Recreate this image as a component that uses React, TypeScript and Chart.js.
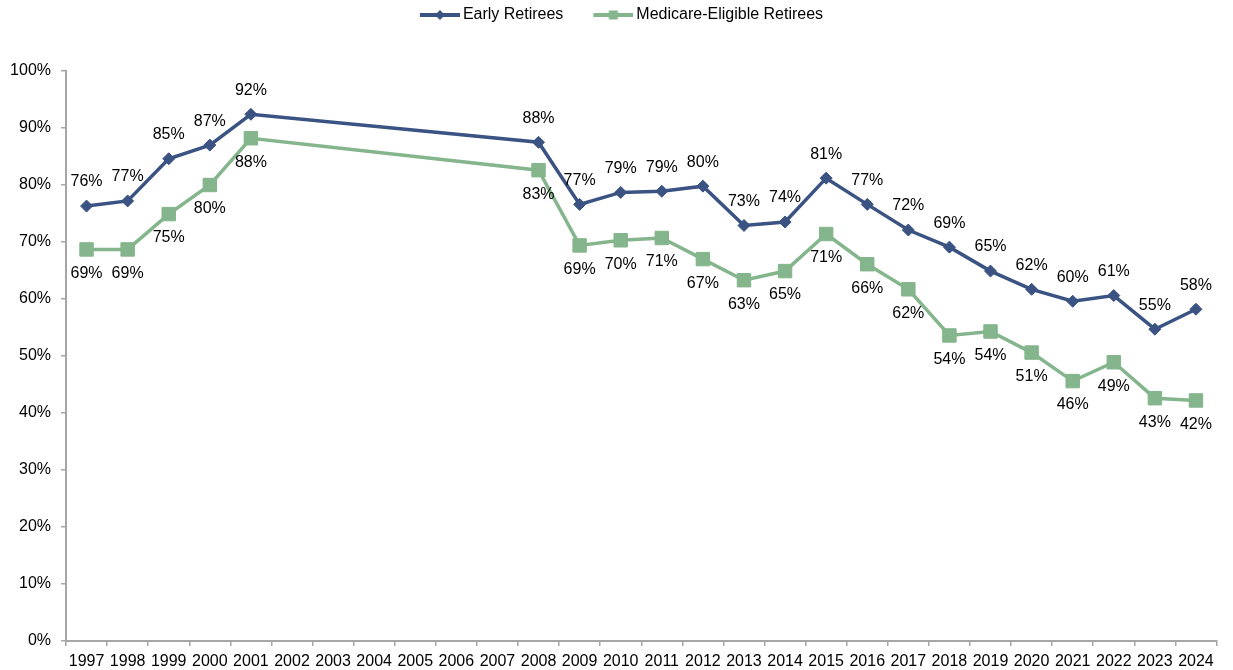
import React, { useEffect, useRef } from 'react';
import { Chart, registerables } from 'chart.js';

Chart.register(...registerables);

// ---- Data ----
const years = [
  '1997', '1998', '1999', '2000', '2001', '2002', '2003', '2004', '2005', '2006',
  '2007', '2008', '2009', '2010', '2011', '2012', '2013', '2014', '2015', '2016',
  '2017', '2018', '2019', '2020', '2021', '2022', '2023', '2024',
];

const earlyRetirees: (number | null)[] = [
  76.3, 77.2, 84.6, 87.0, 92.4, null, null, null, null, null,
  null, 87.5, 76.6, 78.7, 78.9, 79.8, 72.9, 73.5, 81.2, 76.6,
  72.1, 69.1, 64.9, 61.7, 59.6, 60.6, 54.7, 58.2,
];

const medicareEligible: (number | null)[] = [
  68.7, 68.7, 74.9, 80.0, 88.2, null, null, null, null, null,
  null, 82.6, 69.4, 70.3, 70.7, 67.0, 63.3, 64.9, 71.4, 66.1,
  61.7, 53.6, 54.3, 50.6, 45.6, 48.9, 42.6, 42.2,
];

const seriesNames = ['Early Retirees', 'Medicare-Eligible Retirees'];
const seriesColors = ['#3A5382', '#84B58C'];
const labelOffsets = [-24, 24];

const yMin = 0;
const yMax = 100;
const yStep = 10;

const FONT = "'Liberation Sans', Arial, sans-serif";

function makeLegendImage(color: string, kind: 'diamond' | 'square') {
  const c = document.createElement('canvas');
  c.width = 70;
  c.height = 16;
  const g = c.getContext('2d')!;
  g.strokeStyle = color;
  g.lineWidth = 4;
  g.beginPath();
  g.moveTo(30, 8);
  g.lineTo(70, 8);
  g.stroke();
  g.fillStyle = color;
  if (kind === 'diamond') {
    g.beginPath();
    g.moveTo(45, 8);
    g.lineTo(50, 3);
    g.lineTo(55, 8);
    g.lineTo(50, 13);
    g.closePath();
    g.fill();
  } else {
    g.fillRect(45.5, 3.5, 9, 9);
  }
  return c;
}

const pointLabelPlugin = {
  id: 'pointLabels',
  afterDatasetsDraw(chart: any) {
    const ctx = chart.ctx;
    ctx.save();
    ctx.font = `16px ${FONT}`;
    ctx.fillStyle = '#000';
    ctx.textAlign = 'center';
    ctx.textBaseline = 'middle';
    chart.data.datasets.forEach((ds: any, i: number) => {
      const meta = chart.getDatasetMeta(i);
      meta.data.forEach((el: any, j: number) => {
        const v = ds.data[j];
        if (v == null) return;
        ctx.fillText(Math.round(v) + '%', el.x, el.y + labelOffsets[i]);
      });
    });
    ctx.restore();
  },
};

export default function App() {
  const canvasRef = useRef<HTMLCanvasElement | null>(null);

  useEffect(() => {
    if (!canvasRef.current) return;
    Chart.defaults.font.family = FONT;
    Chart.defaults.font.size = 16;
    Chart.defaults.color = '#000';

    const legendImages = [
      makeLegendImage(seriesColors[0], 'diamond'),
      makeLegendImage(seriesColors[1], 'square'),
    ];

    const axisColor = '#A6A6A6';

    const chart = new Chart(canvasRef.current, {
      type: 'line',
      data: {
        labels: years,
        datasets: [
          {
            label: seriesNames[0],
            data: earlyRetirees,
            borderColor: seriesColors[0],
            backgroundColor: seriesColors[0],
            borderWidth: 3.5,
            pointStyle: 'rectRot',
            pointRadius: 6,
            pointBorderWidth: 1,
            pointBackgroundColor: seriesColors[0],
            pointBorderColor: seriesColors[0],
            tension: 0,
            spanGaps: true,
            xAxisID: 'x',
            yAxisID: 'y',
          },
          {
            label: seriesNames[1],
            data: medicareEligible,
            borderColor: seriesColors[1],
            backgroundColor: seriesColors[1],
            borderWidth: 3.5,
            pointStyle: 'rect',
            pointRadius: 9.5,
            pointBorderWidth: 1,
            pointBackgroundColor: seriesColors[1],
            pointBorderColor: seriesColors[1],
            tension: 0,
            spanGaps: true,
            xAxisID: 'x',
            yAxisID: 'y',
          },
        ],
      },
      options: {
        responsive: true,
        maintainAspectRatio: false,
        animation: false,
        layout: { padding: { left: 0, right: 3, top: 0, bottom: 0 } },
        plugins: {
          tooltip: { enabled: false },
          legend: {
            display: true,
            position: 'top',
            labels: {
              usePointStyle: true,
              pointStyleWidth: 60,
              padding: 5,
              color: '#000',
              font: { size: 16, family: FONT },
              generateLabels: (ch: any) =>
                ch.data.datasets.map((ds: any, i: number) => ({
                  text: ds.label,
                  pointStyle: legendImages[i],
                  fillStyle: seriesColors[i],
                  strokeStyle: seriesColors[i],
                  lineWidth: 0,
                  hidden: false,
                  datasetIndex: i,
                  fontColor: '#000',
                })),
            },
          },
        },
        scales: {
          x: {
            type: 'category',
            position: 'bottom',
            offset: true,
            grid: {
              offset: true,
              drawOnChartArea: false,
              drawTicks: true,
              tickLength: 5,
              color: axisColor,
              lineWidth: 1.5,
            },
            border: { display: true, color: axisColor, width: 2 },
            ticks: {
              autoSkip: false,
              maxRotation: 0,
              minRotation: 0,
              padding: 6,
              color: '#000',
              font: { size: 16, family: FONT },
            },
            afterFit: (s: any) => {
              s.height = 29;
            },
          },
          spacer: {
            type: 'category',
            position: 'top',
            display: true,
            grid: { display: false, drawTicks: false },
            border: { display: false },
            ticks: { display: false },
            afterFit: (s: any) => {
              s.height = 38;
            },
          },
          y: {
            type: 'linear',
            position: 'left',
            min: yMin,
            max: yMax,
            grid: {
              drawOnChartArea: false,
              drawTicks: true,
              tickLength: 5,
              color: axisColor,
              lineWidth: 1.5,
            },
            border: { display: true, color: axisColor, width: 2 },
            ticks: {
              stepSize: yStep,
              padding: 10,
              color: '#000',
              font: { size: 16, family: FONT },
              callback: (v: any) => `${v}%`,
            },
            afterFit: (s: any) => {
              s.width = 72;
            },
          },
        },
      },
      plugins: [pointLabelPlugin],
    } as any);

    return () => chart.destroy();
  }, []);

  return (
    <div style={{ position: 'absolute', left: -6, top: 2, width: 1233, height: 668 }}>
      <canvas ref={canvasRef} />
    </div>
  );
}
